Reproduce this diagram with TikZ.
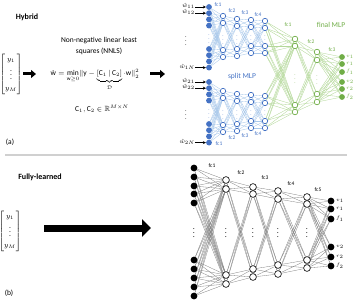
\documentclass[tikz,border=0pt]{standalone}
\usepackage{amsmath,amssymb}
\usepackage{fontspec}
\setmainfont{Carlito}
\usetikzlibrary{arrows.meta,backgrounds}
\definecolor{hyblue}{HTML}{4472C4}
\definecolor{hyline}{HTML}{A9C8EA}
\definecolor{hygreen}{HTML}{70AD47}
\definecolor{hyglight}{HTML}{B4D89A}
\definecolor{flgray}{HTML}{808080}
\definecolor{seprule}{HTML}{D0D0D0}

\begin{document}
\begin{tikzpicture}[x=1pt,y=-1pt,
   hin/.style={circle,fill=hyblue,inner sep=0pt,minimum size=5.8pt},
   hhid/.style={circle,draw=hyblue,line width=0.7pt,fill=white,inner sep=0pt,minimum size=5.4pt},
   gout/.style={circle,fill=hygreen,inner sep=0pt,minimum size=5.8pt},
   ghid/.style={circle,draw=hygreen,line width=0.7pt,fill=white,inner sep=0pt,minimum size=5.6pt},
   fin/.style={circle,fill=black,inner sep=0pt,minimum size=6.8pt},
   fhid/.style={circle,draw=black,line width=0.6pt,fill=white,inner sep=0pt,minimum size=6.8pt},
   bw/.style={hyline,line width=0.35pt},
   gw/.style={hyglight,line width=0.35pt},
   kw/.style={flgray,line width=0.3pt},
   fc/.style={font=\fontsize{5.5}{6}\selectfont,inner sep=0pt},
   vd/.style={inner sep=0pt,font=\fontsize{5}{5}\selectfont},
   txt/.style={font=\fontsize{7.5}{11}\selectfont,inner sep=0pt},
   wlbl/.style={anchor=east,inner sep=0pt,font=\fontsize{6}{6}\selectfont},
   inar/.style={-{Stealth[length=3pt,width=3pt]},line width=0.6pt},
   fat/.style={line width=3pt,-{Triangle[length=5pt,width=8pt]}},
   fatter/.style={line width=7pt,-{Triangle[length=9pt,width=17pt]}}]
  \useasboundingbox (0,0) rectangle (359,305);

  \node[font=\bfseries\fontsize{8}{9}\selectfont] (hyb) at (27,17) {Hybrid};
  \node[txt,align=center] (nnlsname) at (99,46.5) {Non-negative linear least\\squares (NNLS)};
  \node[txt] (yvec) at (11,74) {$\begin{bmatrix} y_1\\ \vdots\\ y_M\end{bmatrix}$};
  \node[txt,anchor=base] (nnls) at (95,76)
    {$\hat{\mathrm{w}}=\min\limits_{\mathrm{w}\geq 0}\lVert \mathrm{y}-\underbrace{[\mathrm{C}_1\,|\,\mathrm{C}_2]}_{\mathcal{D}}\cdot\mathrm{w}\rVert_2^2$};
  \node[txt] (cdom) at (102,109) {$\mathrm{C}_1,\mathrm{C}_2\in\mathbb{R}^{M\times N}$};
  \node[txt] (lab-a) at (10,142) {(a)};
  \coordinate (hyb-in) at (23,74);
  \coordinate (hyb-mid) at (36,74);
  \coordinate (hyb-a) at (150,74);
  \coordinate (hyb-out) at (165,74);
  \draw[fat] (hyb-in) -- (hyb-mid);
  \draw[fat] (hyb-a) -- (hyb-out);

  % split MLP
  \foreach \s/\dy in {1/0,2/75}{
    \foreach \y [count=\i] in {7,13.2,19.4,25.6,49,55.2,61.4,67.6}
      \node[hin] (s\s-0-\i) at (209,\y+\dy) {};
    \node[vd,text=hyblue] at (209,36+\dy) {$\vdots$};
    \foreach \x/\ya/\yb/\yc/\yd [count=\j] in {223/16/23/50/57,237/19/26/49/56,251/20/27/46/53,265/21/28/46/53}{
      \node[hhid] (s\s-\j-1) at (\x,\ya+\dy) {};
      \node[hhid] (s\s-\j-2) at (\x,\yb+\dy) {};
      \node[hhid] (s\s-\j-3) at (\x,\yc+\dy) {};
      \node[hhid] (s\s-\j-4) at (\x,\yd+\dy) {};
      \node[vd,text=hyblue] at (\x,37+\dy) {$\vdots$};
    }
  }
  \foreach \x/\y/\t in {218/5/fc1,232/11/fc2,245/13/fc3,258/15/fc4,219/144/fc1,232/138/fc2,245/136/fc3,258/134/fc4}
    \node[fc,text=hyblue] at (\x,\y) {\t};
  \node[font=\fontsize{7.5}{9}\selectfont,text=hyblue] (split) at (242,77) {split MLP};

  \foreach \s/\i/\n/\t in {1/1/w11/{11},1/2/w12/{12},1/8/w1N/{1N},2/1/w21/{21},2/2/w22/{22},2/8/w2N/{2N}}{
    \node[wlbl] (\n) at ([xshift=-11pt,yshift=1pt]s\s-0-\i.west) {$\hat{w}_{\t}$};
    \draw[inar] (\n.east |- s\s-0-\i) -- (s\s-0-\i);
  }
  \node[inner sep=0pt,font=\fontsize{6}{6}\selectfont] (dd1) at (186,38) {$\vdots$};
  \node[inner sep=0pt,font=\fontsize{6}{6}\selectfont] (dd2) at (186,112) {$\vdots$};

  % final MLP
  \foreach \y [count=\k] in {39,46,105,112}
    \node[ghid] (f1-\k) at (295,\y) {};
  \foreach \y [count=\k] in {52,60,94,102}
    \node[ghid] (f2-\k) at (317,\y) {};
  \foreach \y/\t [count=\k] in {57/v_1,64/r_1,72/f_1,82/v_2,89/r_2,97/f_2}{
    \node[gout] (o-\k) at (342,\y) {};
    \node[fc,anchor=west,text=hygreen] at (346,\y) {$\t$};
  }
  \node[vd,text=hygreen] at (295,76) {$\vdots$};
  \node[vd,text=hygreen] at (317,77) {$\vdots$};
  \node[fc,text=hygreen] at (288,25) {fc1};
  \node[fc,text=hygreen] at (311,42) {fc2};
  \node[fc,text=hygreen] at (332,50) {fc3};
  \node[font=\fontsize{7.5}{9}\selectfont,text=hygreen] (final) at (331,25) {final MLP};

  \begin{scope}[on background layer]
    \foreach \s in {1,2}{
      \foreach \i in {1,...,8}
        \foreach \k in {1,...,4}
          \draw[bw] (s\s-0-\i) -- (s\s-1-\k);
      \foreach \j [evaluate=\j as \jn using int(\j+1)] in {1,2,3}
        \foreach \i in {1,...,4}
          \foreach \k in {1,...,4}
            \draw[bw] (s\s-\j-\i) -- (s\s-\jn-\k);
      \foreach \i in {1,...,4}
        \foreach \k in {1,...,4}
          \draw[gw] (s\s-4-\i) -- (f1-\k);
    }
    \foreach \i in {1,...,4}{
      \foreach \k in {1,...,4}
        \draw[gw] (f1-\i) -- (f2-\k);
      \foreach \k in {1,...,6}
        \draw[gw] (f2-\i) -- (o-\k);
    }
  \end{scope}

  \draw[seprule,line width=1.2pt] (5,155) -- (347,155);

  % fully-learned
  \node[font=\bfseries\fontsize{8}{9}\selectfont] (full) at (40,177) {Fully-learned};
  \node[txt] (yvec2) at (10,231) {$\begin{bmatrix} y_1\\ \vdots\\ y_M\end{bmatrix}$};
  \node[txt] (lab-b) at (9,293) {(b)};
  \coordinate (fl-in) at (44,228);
  \coordinate (fl-out) at (151,228);
  \draw[fatter] (fl-in) -- (fl-out);

  \foreach \y [count=\i] in {168,177,186,194,203,260,269,278,287,296}
    \node[fin] (b0-\i) at (194,\y) {};
  \foreach \x/\ya/\yb/\yc/\yd [count=\j] in {226/180/189/275/284,253/187/194/269/277,278/191/199/265/274,307/197/204/260/268}{
    \node[fhid] (b\j-1) at (\x,\ya) {};
    \node[fhid] (b\j-2) at (\x,\yb) {};
    \node[fhid] (b\j-3) at (\x,\yc) {};
    \node[fhid] (b\j-4) at (\x,\yd) {};
    \node[inner sep=0pt,font=\fontsize{8}{8}\selectfont] at (\x,230) {$\vdots$};
  }
  \node[inner sep=0pt,font=\fontsize{8}{8}\selectfont] at (194,230) {$\vdots$};
  \foreach \y/\t [count=\k] in {201/v_1,209/r_1,219/f_1,247/v_2,257/r_2,266/f_2}{
    \node[fin] (bo-\k) at (331,\y) {};
    \node[fc,anchor=west] at (336,\y) {$\t$};
  }
  \foreach \x/\y/\t in {212/166/fc1,241/173/fc2,265/178/fc3,291/184/fc4,318/190/fc5}
    \node[fc] at (\x,\y) {\t};

  \begin{scope}[on background layer]
    \foreach \i in {1,...,10}
      \foreach \k in {1,...,4}
        \draw[kw] (b0-\i) -- (b1-\k);
    \foreach \j [evaluate=\j as \jn using int(\j+1)] in {1,2,3}
      \foreach \i in {1,...,4}
        \foreach \k in {1,...,4}
          \draw[kw] (b\j-\i) -- (b\jn-\k);
    \foreach \i in {1,...,4}
      \foreach \k in {1,...,6}
        \draw[kw] (b4-\i) -- (bo-\k);
  \end{scope}
\end{tikzpicture}
\end{document}
